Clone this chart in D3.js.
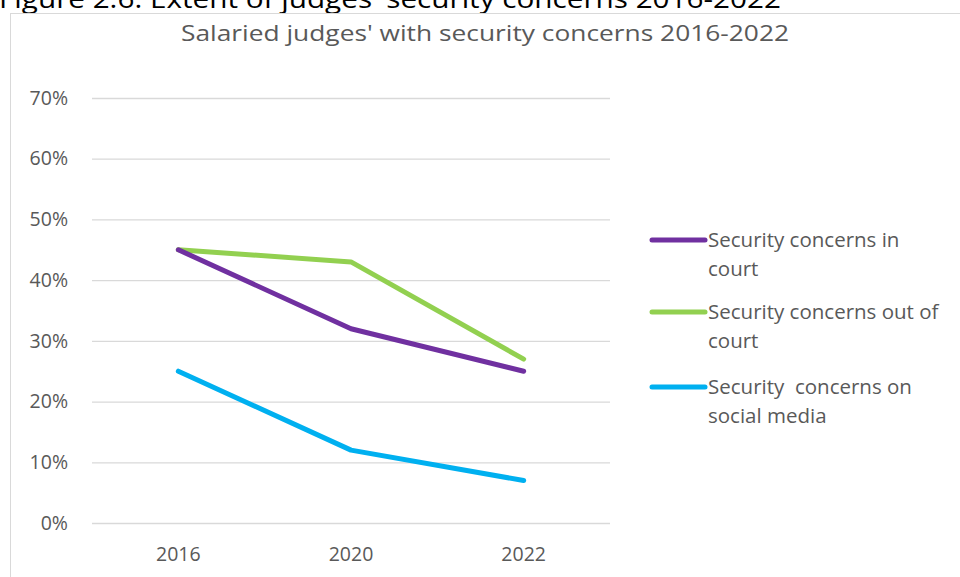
<!DOCTYPE html>
<html>
<head>
<meta charset="utf-8">
<script src="https://cdn.jsdelivr.net/npm/d3@7"></script>
<style>
  body { margin: 0; background: #fff; }
  svg { display: block; font-family: "Open Sans", sans-serif; }
</style>
</head>
<body>
<div id="chart"></div>
<script>
const years = ['2016', '2020', '2022']
const inCourt = [0.45, 0.32, 0.25]
const outOfCourt = [0.45, 0.43, 0.27]
const socialMedia = [0.25, 0.12, 0.07]
const seriesNames = [
  ['Security concerns in', 'court'],
  ['Security concerns out of', 'court'],
  ['Security  concerns on', 'social media']
]
const seriesColors = ['#7030A0', '#92D050', '#00B0F0']
const yTicks = [0, 0.1, 0.2, 0.3, 0.4, 0.5, 0.6, 0.7]

const W = 960, H = 577
const svg = d3.select('#chart').append('svg')
  .attr('width', W).attr('height', H)

// caption, partly above the top edge like in the source image
svg.append('text')
  .attr('x', -1).attr('y', 8)
  .attr('textLength', 782)
  .attr('lengthAdjust', 'spacingAndGlyphs')
  .style('font-size', '26px')
  .style('fill', '#000')
  .text("Figure 2.6: Extent of judges' security concerns 2016-2022")

// chart area frame
svg.append('rect')
  .attr('x', 10.5).attr('y', 13.5)
  .attr('width', 1000).attr('height', 600)
  .style('fill', '#fff')
  .style('stroke', '#d9d9d9')
  .style('stroke-width', 1)

svg.append('text')
  .attr('x', 485).attr('y', 41)
  .attr('text-anchor', 'middle')
  .attr('textLength', 608)
  .attr('lengthAdjust', 'spacingAndGlyphs')
  .style('font-size', '22px')
  .style('fill', '#595959')
  .text("Salaried judges' with security concerns 2016-2022")

const x = d3.scaleBand().domain(years).range([92, 610])
const y = d3.scaleLinear().domain([0, 0.7]).range([523, 98])

const yAxis = svg.append('g')
  .attr('transform', 'translate(92,0)')
  .call(d3.axisLeft(y).tickValues(yTicks).tickFormat(d3.format('.0%')).tickSize(-518).tickPadding(24))
yAxis.select('.domain').remove()
yAxis.selectAll('line').style('stroke', '#d9d9d9').style('stroke-width', 1.3)
yAxis.selectAll('text').style('font-size', '19.5px').style('fill', '#595959').style('font-family', '"Open Sans", sans-serif')

const xAxis = svg.append('g')
  .attr('transform', 'translate(0,523)')
  .call(d3.axisBottom(x).tickSize(0).tickPadding(24))
xAxis.select('.domain').remove()
xAxis.selectAll('text').style('font-size', '19.5px').style('fill', '#595959').style('font-family', '"Open Sans", sans-serif')

const series = [inCourt, outOfCourt, socialMedia]
const line = d3.line()
  .x((d, i) => x(years[i]) + x.bandwidth() / 2)
  .y(d => y(d))

// green first so purple sits on top like the original
const order = [1, 0, 2]
order.forEach(k => {
  svg.append('path')
    .datum(series[k])
    .attr('d', line)
    .style('fill', 'none')
    .style('stroke', seriesColors[k])
    .style('stroke-width', 5)
    .style('stroke-linejoin', 'round')
    .style('stroke-linecap', 'round')
})

// legend
const legendY = [240, 312, 387]
seriesNames.forEach((lines, k) => {
  const g = svg.append('g').attr('transform', `translate(0,${legendY[k]})`)
  g.append('line')
    .attr('x1', 652).attr('x2', 705)
    .attr('y1', 0).attr('y2', 0)
    .style('stroke', seriesColors[k])
    .style('stroke-width', 5)
    .style('stroke-linecap', 'round')
  lines.forEach((t, j) => {
    g.append('text')
      .attr('x', 708).attr('y', 7 + j * 29)
      .style('font-size', '20.5px')
      .style('fill', '#595959')
      .style('white-space', 'pre')
      .text(t)
  })
})
</script>
</body>
</html>
